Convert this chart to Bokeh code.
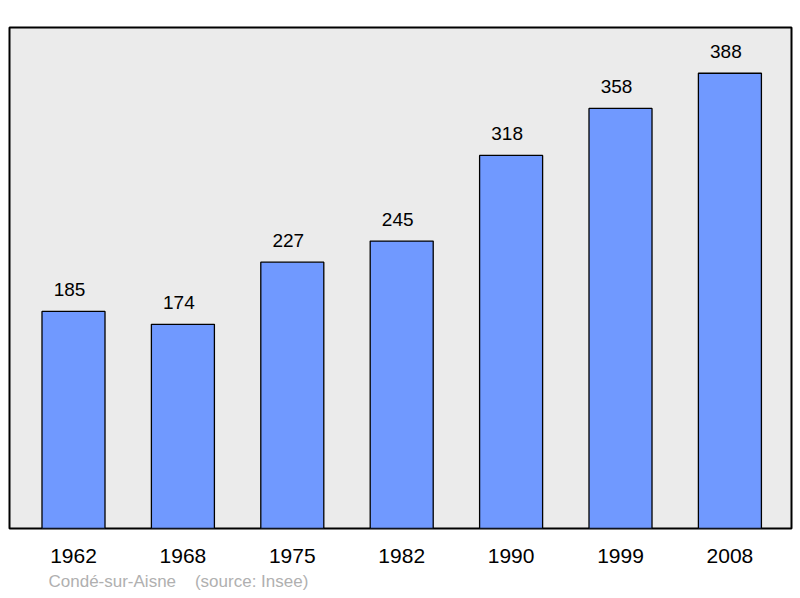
from bokeh.plotting import figure
from bokeh.models import ColumnDataSource, Range1d, FixedTicker, Title
from bokeh.core.properties import value
from bokeh.embed import file_html
from bokeh.resources import INLINE

years = ["1962", "1968", "1975", "1982", "1990", "1999", "2008"]
population = [185, 174, 227, 245, 318, 358, 388]
source_text = "Condé-sur-Aisne\u00a0\u00a0\u00a0\u00a0(source: Insee)"

xs = list(range(len(years)))
src = ColumnDataSource(dict(x=xs, pop=population, lbl=[str(v) for v in population]))

FONT = "Liberation Sans"

p = figure(width=800, height=596, output_backend="svg", toolbar_location=None,
           x_range=Range1d(-0.585, 6.563), y_range=Range1d(0, 427),
           min_border_left=9, min_border_right=9, min_border_top=27, min_border_bottom=68)
p.background_fill_color = "#ebebeb"
p.border_fill_color = "white"
p.outline_line_color = "black"
p.outline_line_width = 2
p.grid.visible = False
p.yaxis.visible = False

p.vbar(x="x", top="pop", width=0.576, bottom=0, source=src,
       fill_color="#7099ff", line_color="black", line_width=1.3)
p.text(x="x", y="pop", text="lbl", source=src, y_offset=-15, x_offset=-4,
       text_align="center", text_baseline="bottom",
       text_font=value(FONT), text_font_size="19px", text_color="black")

ax = p.xaxis[0]
ax.ticker = FixedTicker(ticks=xs)
ax.major_label_overrides = {i: y for i, y in zip(xs, years)}
ax.axis_line_color = None
ax.major_tick_line_color = None
ax.minor_tick_line_color = None
ax.major_tick_out = 0
ax.major_tick_in = 0
ax.major_label_standoff = 20
ax.major_label_text_font = FONT
ax.major_label_text_font_size = "21px"
ax.major_label_text_color = "black"

t = Title(text=source_text, align="left", offset=39, text_font=FONT,
          text_font_size="17px", text_font_style="normal", text_color="#b0b0b0",
          standoff=8)
p.add_layout(t, "below")

open("out.html", "w").write(file_html(p, INLINE))
